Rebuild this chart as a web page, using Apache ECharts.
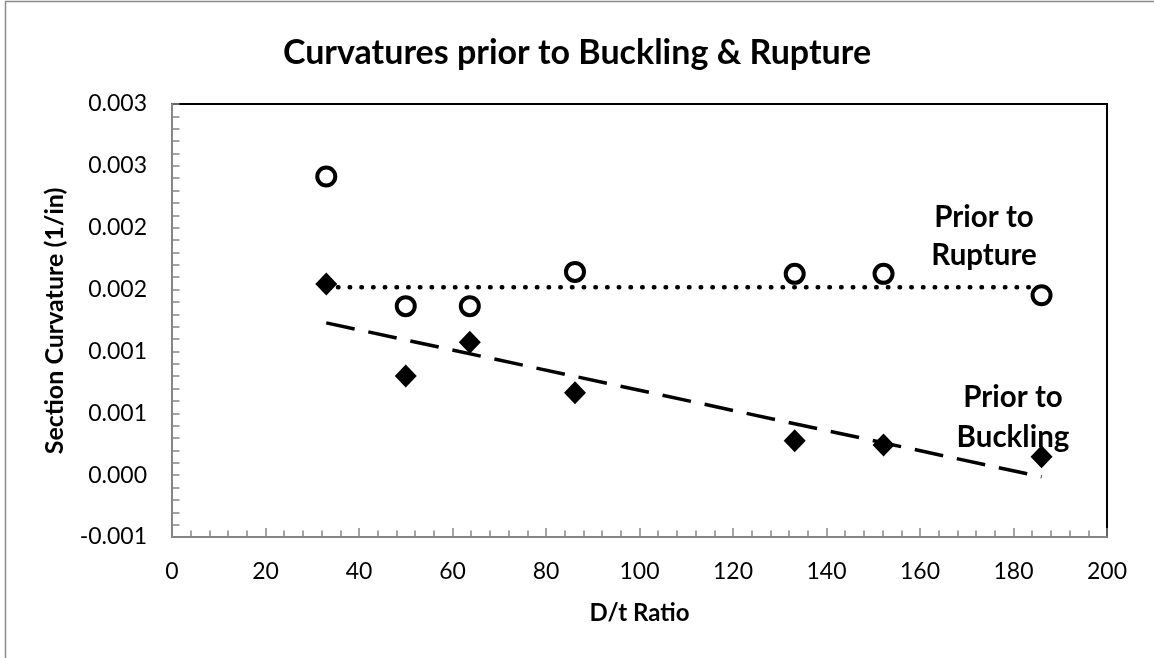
<!DOCTYPE html>
<html>
<head>
<meta charset="utf-8">
<script src="https://cdn.jsdelivr.net/npm/echarts@6/dist/echarts.min.js"></script>
<style>
html,body{margin:0;padding:0;background:#fff;}
#chart{width:1154px;height:658px;}
</style>
</head>
<body>
<div id="chart"></div>
<script>
// D/t ratio of each specimen
const dtRatio = [33, 50, 63.7, 86.2, 133.2, 152.2, 186];
// Section curvature (1/in) prior to rupture
const ruptureCurv = [0.002414, 0.001366, 0.001366, 0.001643, 0.001627, 0.001627, 0.001454];
// Section curvature (1/in) prior to buckling
const bucklingCurv = [0.001546, 0.000801, 0.001075, 0.000667, 0.000277, 0.000244, 0.000148];
// Trend lines: end points
const ruptureTrendX = [33, 186];
const ruptureTrendY = [0.001519, 0.001519];
const bucklingTrendX = [33, 186];
const bucklingTrendY = [0.001231, -0.000014];
// Axis ticks
const xTicks = [0, 20, 40, 60, 80, 100, 120, 140, 160, 180, 200];
const yTickValues = [-0.0005, 0, 0.0005, 0.001, 0.0015, 0.002, 0.0025, 0.003];
const yTickLabels = ['-0.001', '0.000', '0.001', '0.001', '0.002', '0.002', '0.003', '0.003'];

const FONT = 'Lato, "Open Sans", sans-serif';
const yMin = yTickValues[0], yMax = yTickValues[yTickValues.length - 1];
const yInterval = yTickValues[1] - yTickValues[0];
const xMin = xTicks[0], xMax = xTicks[xTicks.length - 1];
const xInterval = xTicks[1] - xTicks[0];

const pairs = (xs, ys) => xs.map((x, i) => [x, ys[i]]);

const chart = echarts.init(document.getElementById('chart'), null, {renderer: 'canvas'});
const axisGray = '#868686';

chart.setOption({
  animation: false,
  backgroundColor: '#fff',
  title: {
    text: 'Curvatures prior to Buckling & Rupture',
    left: 'center',
    top: 31,
    textStyle: {fontFamily: FONT, fontWeight: 'bold', fontSize: 34, color: '#000'}
  },
  grid: {
    left: 172, right: 47, top: 104, bottom: 121,
    show: true, borderColor: '#000', borderWidth: 2, backgroundColor: 'transparent'
  },
  xAxis: {
    type: 'value', min: xMin, max: xMax, interval: xInterval,
    name: 'D/t Ratio', nameLocation: 'middle', nameGap: 64,
    nameTextStyle: {fontFamily: FONT, fontWeight: 'bold', fontSize: 24, color: '#000'},
    axisLine: {show: true, onZero: false, lineStyle: {color: axisGray, width: 2}},
    axisTick: {show: true, inside: true, length: 9, lineStyle: {color: axisGray, width: 1.5}},
    minorTick: {show: true, splitNumber: 5, length: 6.5, lineStyle: {color: axisGray, width: 1.5}},
    splitLine: {show: false},
    axisLabel: {fontFamily: FONT, fontSize: 23, color: '#000', margin: 23}
  },
  yAxis: {
    type: 'value', min: yMin, max: yMax, interval: yInterval,
    axisLine: {show: true, onZero: false, lineStyle: {color: axisGray, width: 2}},
    axisTick: {show: true, inside: true, length: 7.5, lineStyle: {color: axisGray, width: 1.5}},
    minorTick: {show: true, splitNumber: 5, length: 7.5, lineStyle: {color: axisGray, width: 1.5}},
    splitLine: {show: false},
    axisLabel: {
      fontFamily: FONT, fontSize: 23, color: '#000', margin: 25,
      formatter: v => yTickLabels[Math.round((v - yMin) / yInterval)]
    }
  },
  graphic: [
    {
      type: 'rect', silent: true, z: -10,
      shape: {x: 5.5, y: 1.5, width: 1400, height: 900},
      style: {fill: 'none', stroke: '#8c8c8c', lineWidth: 1.5}
    },
    {
      type: 'text', silent: true,
      x: 55, y: 321, rotation: Math.PI / 2,
      style: {
        text: 'Section Curvature (1/in)', textAlign: 'center', textVerticalAlign: 'middle',
        fontFamily: FONT, fontWeight: 'bold', fontSize: 25, fill: '#000'
      }
    },
    {
      type: 'text', silent: true,
      x: 984, y: 236,
      style: {
        text: 'Prior to\nRupture', textAlign: 'center', textVerticalAlign: 'middle',
        fontFamily: FONT, fontWeight: 'bold', fontSize: 29.5, lineHeight: 38, fill: '#000'
      }
    },
    {
      type: 'text', silent: true,
      x: 1013, y: 417,
      style: {
        text: 'Prior to\nBuckling', textAlign: 'center', textVerticalAlign: 'middle',
        fontFamily: FONT, fontWeight: 'bold', fontSize: 29.5, lineHeight: 40, fill: '#000'
      }
    }
  ],
  series: [
    {
      name: 'Prior to Rupture trend', type: 'line', data: pairs(ruptureTrendX, ruptureTrendY),
      showSymbol: false, silent: true, z: 1,
      lineStyle: {color: '#000', width: 4.5, type: [0.5, 11.2], cap: 'round'}
    },
    {
      name: 'Prior to Buckling trend', type: 'line', data: pairs(bucklingTrendX, bucklingTrendY),
      showSymbol: false, silent: true, z: 1,
      lineStyle: {color: '#000', width: 3.5, type: [29, 14], cap: 'butt'}
    },
    {
      name: 'Prior to Rupture', type: 'scatter', data: pairs(dtRatio, ruptureCurv),
      symbol: 'circle', symbolSize: 18, z: 3,
      itemStyle: {color: '#fff', borderColor: '#000', borderWidth: 4, opacity: 1}
    },
    {
      name: 'Prior to Buckling', type: 'scatter', data: pairs(dtRatio, bucklingCurv),
      symbol: 'diamond', symbolSize: [22, 23], z: 3,
      itemStyle: {color: '#000', opacity: 1}
    }
  ]
});
</script>
</body>
</html>
